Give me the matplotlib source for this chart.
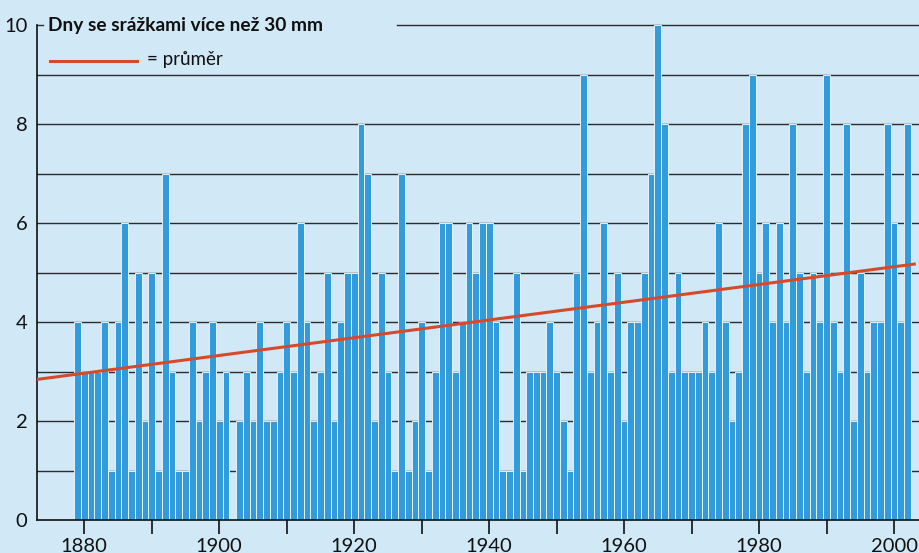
import matplotlib.pyplot as plt
import numpy as np

# days per year with precipitation over 30 mm, 1879-2002
years = list(range(1879, 2003))
days = [4, 3, 3, 3, 4, 1, 4, 6, 1, 5, 2, 5, 1, 7, 3, 1, 1, 4, 2, 3, 4,
        2, 3, 0, 2, 3, 2, 4, 2, 2, 3, 4, 3, 6, 4, 2, 3, 5, 2, 4, 5,
        5, 8, 7, 2, 5, 3, 1, 7, 1, 2, 4, 1, 3, 6, 6, 3, 4, 6, 5, 6,
        6, 4, 1, 1, 5, 1, 3, 3, 3, 4, 3, 2, 1, 5, 9, 3, 4, 6, 3, 5,
        2, 4, 4, 5, 7, 10, 8, 3, 5, 3, 3, 3, 4, 3, 6, 4, 2, 3, 8, 9,
        5, 6, 4, 6, 4, 8, 5, 3, 5, 4, 9, 4, 3, 8, 2, 5, 3, 4, 4, 8,
        6, 4, 8]

# trend line ("průměr") end points
trend_years = [1873.0, 2003.0]
trend_values = [2.84, 5.17]

xticks = [1880, 1890, 1900, 1910, 1920, 1930, 1940, 1950, 1960, 1970, 1980, 1990, 2000]
yticks = [0, 2, 4, 6, 8, 10]

bg = '#d1e8f7'
bar_col = '#329bdb'
red = '#d64a2c'
font = ['Lato', 'DejaVu Sans']

fig = plt.figure(figsize=(9.19, 5.53), dpi=100, facecolor=bg)
ax = fig.add_axes([37 / 919, 1 - 520 / 553, 1 - 37 / 919, (520 - 25) / 553])
ax.set_facecolor(bg)

# grid lines, the one at 10 is broken by the title
for v in range(1, 10):
    ax.axhline(v, color='#2b2b2b', lw=1.0, zorder=1)
ax.axhline(10, xmin=0, xmax=0.007, color='#2b2b2b', lw=1.0, zorder=1, clip_on=False)
ax.axhline(10, xmin=0.408, xmax=1, color='#2b2b2b', lw=1.0, zorder=1, clip_on=False)

ax.bar(years, days, width=1.0, color=bar_col, edgecolor='#e6f2fb', linewidth=0.7, zorder=2)
ax.plot(trend_years, trend_values, color=red, lw=2.2, zorder=3)

ax.set_xlim(1873.0, 2003.7)
ax.set_ylim(0, 10)

for s in ['top', 'right']:
    ax.spines[s].set_visible(False)
for s in ['left', 'bottom']:
    ax.spines[s].set_color('#111111')
    ax.spines[s].set_linewidth(1.2)

ax.set_xticks(xticks)
ax.set_xticklabels([str(t) if t % 20 == 0 else '' for t in xticks])
ax.tick_params(axis='x', direction='out', length=10, width=1.2, color='#111111',
               labelsize=14.5, pad=3)
ax.set_yticks(yticks)
ax.set_yticklabels([str(t) for t in yticks])
ax.tick_params(axis='y', length=0, labelsize=14.5, pad=7)
for lab in ax.get_xticklabels() + ax.get_yticklabels():
    lab.set_family(font)
    lab.set_color('#111111')

fig.text(48 / 919, 1 - 25 / 553, 'Dny se srážkami více než 30 mm', family=font,
         fontsize=13.8, fontweight='bold', va='center', ha='left', color='#111111')
fig.add_artist(plt.Line2D([50 / 919, 137 / 919], [1 - 61 / 553, 1 - 61 / 553],
                          color=red, lw=2.2))
fig.text(147 / 919, 1 - 60 / 553, '= průměr', family=font, fontsize=13.5,
         va='center', ha='left', color='#111111')

fig.savefig('out.png', dpi=100, facecolor=bg)
